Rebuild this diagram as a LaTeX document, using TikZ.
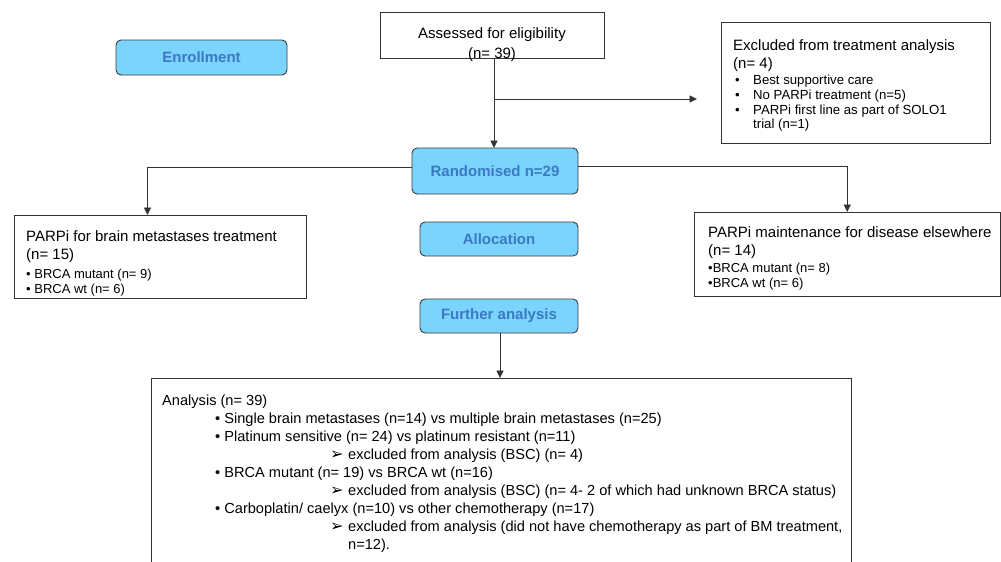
\documentclass[tikz,border=0pt]{standalone}
\usepackage{fontspec}
\setmainfont{Liberation Sans}
\newfontfamily\dvfont{DejaVu Sans}
\usetikzlibrary{arrows.meta,calc}
\definecolor{boxfill}{HTML}{7AD4FE}
\definecolor{boxtext}{HTML}{3B79C3}
\definecolor{boxline}{HTML}{3A3A3A}
\definecolor{lineclr}{HTML}{333333}
\tikzset{
  bluebox/.style={draw=boxline, fill=boxfill, rounded corners=5pt, line width=0.9pt,
    text=boxtext, font=\fontsize{15}{18}\selectfont\bfseries, inner sep=0pt},
  plainbox/.style={draw=lineclr, line width=1pt, inner sep=0pt},
  headtxt/.style={inner sep=0pt, anchor=north west, align=left, font=\fontsize{15}{18}\selectfont},
  bultxt/.style={inner sep=0pt, anchor=north west, align=left, font=\fontsize{13}{15}\selectfont},
  anatxt/.style={inner sep=0pt, anchor=north west, align=left, font=\fontsize{14.6}{18}\selectfont},
  conn/.style={draw=lineclr, line width=0.9pt},
  arr/.style={conn, -{Triangle[length=7.5pt,width=7pt]}},
}
\newcommand{\arrowbul}{{\dvfont\fontsize{16}{18}\selectfont ➢}}
\begin{document}
\begin{tikzpicture}[x=1pt,y=-1pt]
\useasboundingbox (0,0) rectangle (1001,562);
\clip (0,0) rectangle (1001,562);
\fill[white] (0,0) rectangle (1001,562);

% blue stage boxes
\node[bluebox, minimum width=171pt, minimum height=35pt] (enroll) at (201.5,57.5) {Enrollment};
\node[bluebox, minimum width=166pt, minimum height=46pt] (rand) at (495,171) {Randomised n=29};
\node[bluebox, minimum width=158pt, minimum height=34pt] (alloc) at (499,239) {Allocation};
\node[bluebox, minimum width=158pt, minimum height=34pt] (further) at (499,316) {Further analysis};

% assessed
\node[plainbox, minimum width=224pt, minimum height=46pt] (assess) at (492,35) {};
\node[inner sep=0pt, anchor=north, align=center, font=\fontsize{15}{20}\selectfont] (assesstxt) at (492,27.4) {Assessed for eligibility\\(n= 39)};

% excluded
\node[plainbox, anchor=north west, minimum width=269pt, minimum height=121pt] (excl) at (721,22) {};
\node[headtxt] (exclhead) at (733,39.4) {Excluded from treatment analysis\\(n= 4)};
\node[bultxt, font=\fontsize{13.2}{14.7}\selectfont] (exclbul) at (735,75.1) {\makebox[18pt][l]{•}Best supportive care\\
\makebox[18pt][l]{•}No PARPi treatment (n=5)\\
\makebox[18pt][l]{•}PARPi first line as part of SOLO1\\
\hspace*{18pt}trial (n=1)};

% left box
\node[plainbox, anchor=north west, minimum width=292pt, minimum height=83pt] (left) at (14,215) {};
\node[headtxt] (lefthead) at (26,230.4) {PARPi for brain metastases treatment\\(n= 15)};
\node[bultxt] (leftbul) at (26,269.2) {• BRCA mutant (n= 9)\\• BRCA wt (n= 6)};

% right box
\node[plainbox, anchor=north west, minimum width=305.5pt, minimum height=84pt] (right) at (694,212) {};
\node[headtxt] (righthead) at (708,226.4) {PARPi maintenance for disease elsewhere\\(n= 14)};
\node[bultxt] (rightbul) at (708,263.2) {•BRCA mutant (n= 8)\\•BRCA wt (n= 6)};

% analysis box (bottom edge outside the picture)
\node[plainbox, anchor=north west, minimum width=700pt, minimum height=250pt] (anal) at (151,378) {};
\node[anatxt] (analtxt) at (162,394.6) {Analysis (n= 39)\\
\hspace*{53pt}• Single brain metastases (n=14) vs multiple brain metastases (n=25)\\
\hspace*{53pt}• Platinum sensitive (n= 24) vs platinum resistant (n=11)\\
\hspace*{168pt}\makebox[18pt][l]{\arrowbul}excluded from analysis (BSC) (n= 4)\\
\hspace*{53pt}• BRCA mutant (n= 19) vs BRCA wt (n=16)\\
\hspace*{168pt}\makebox[18pt][l]{\arrowbul}excluded from analysis (BSC) (n= 4- 2 of which had unknown BRCA status)\\
\hspace*{53pt}• Carboplatin/ caelyx (n=10) vs other chemotherapy (n=17)\\
\hspace*{168pt}\makebox[18pt][l]{\arrowbul}excluded from analysis (did not have chemotherapy as part of BM treatment,\\
\hspace*{186pt}n=12).};

% connectors
\draw[arr] (assess.south -| 494,0) -- (494,148) coordinate (randtop);
\coordinate (br) at (494,99);
\coordinate (exclarrow) at (697,99);
\draw[arr] (br) -- (exclarrow);
\draw[arr] ([yshift=4pt]rand.west) -| ([xshift=-13pt]left.north);
\draw[arr] ([yshift=5pt]rand.east) -| (right.north);
\draw[arr] (further.south -| 500,0) -- (anal.north -| 500,0);
\end{tikzpicture}
\end{document}
